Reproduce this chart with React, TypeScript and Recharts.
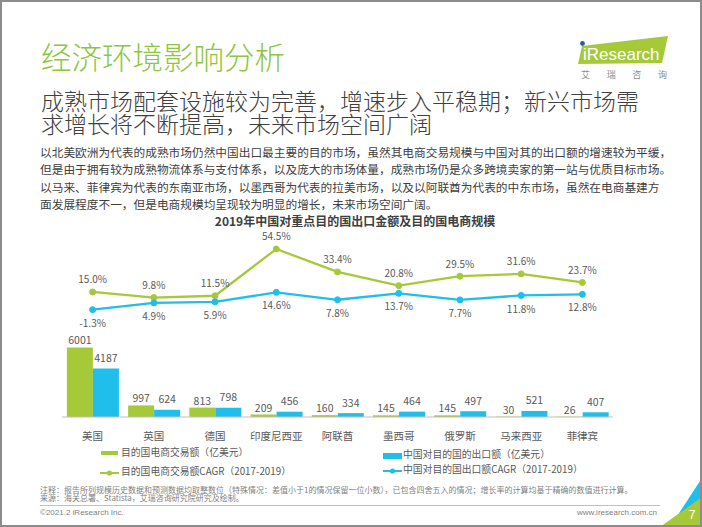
import { Bar, ComposedChart, Line, XAxis, YAxis, LabelList } from 'recharts'

const categories = ['美国', '英国', '德国', '印度尼西亚', '阿联酋', '墨西哥', '俄罗斯', '马来西亚', '菲律宾']
const ecomScale = [6001, 997, 813, 209, 160, 145, 145, 30, 26]
const exportValue = [4187, 624, 798, 456, 334, 464, 497, 521, 407]
const ecomCagr = [15.0, 9.8, 11.5, 54.5, 33.4, 20.8, 29.5, 31.6, 23.7]
const exportCagr = [-1.3, 4.9, 5.9, 14.6, 7.8, 13.7, 7.7, 11.8, 12.8]

const subtitleLines = ['成熟市场配套设施较为完善，增速步入平稳期；新兴市场需', '求增长将不断提高，未来市场空间广阔']

const bodyLines = [
    '以北美欧洲为代表的成熟市场仍然中国出口最主要的目的市场，虽然其电商交易规模与中国对其的出口额的增速较为平缓，',
    '但是由于拥有较为成熟物流体系与支付体系，以及庞大的市场体量，成熟市场仍是众多跨境卖家的第一站与优质目标市场。',
    '以马来、菲律宾为代表的东南亚市场，以墨西哥为代表的拉美市场，以及以阿联酋为代表的中东市场，虽然在电商基建方',
    '面发展程度不一，但是电商规模均呈现较为明显的增长，未来市场空间广阔。',
]

const noteLines = [
    '注释：报告所列规模历史数据和预测数据均取整数位（特殊情况：差值小于1的情况保留一位小数），已包含四舍五入的情况；增长率的计算均基于精确的数值进行计算。',
    '来源：海关总署、Statista，艾瑞咨询研究院研究及绘制。',
]

const GREEN = '#A6C939'
const BLUE = '#1FBEEB'
const TEXT = '#404040'
const LABEL = '#595959'
const FONT = '"Noto Sans CJK SC", "Noto Sans", sans-serif'
const LATIN = '"Liberation Sans", Arial, sans-serif'

const data = categories.map((name, i) => ({
    name,
    ecom: ecomScale[i],
    exp: exportValue[i],
    ecomCagr: ecomCagr[i],
    expCagr: exportCagr[i],
}))

const pct = (v: any) => `${Number(v).toFixed(1)}%`

function Txt({ top, left, size, color, children, bold, light, family, lineHeight }: any) {
    return (
        <div
            style={{
                position: 'absolute',
                top,
                left,
                fontSize: size,
                lineHeight: lineHeight || 1,
                color,
                whiteSpace: 'nowrap',
                fontWeight: bold ? 700 : light ? 300 : 400,
                fontFamily: family || FONT,
            }}
        >
            {children}
        </div>
    )
}

function LegendLine({ left, top, color }: any) {
    return (
        <svg style={{ position: 'absolute', left, top }} width={20} height={8}>
            <line x1={0} y1={4} x2={19} y2={4} stroke={color} strokeWidth={2} />
            <circle cx={9.5} cy={4} r={2.6} fill={color} />
        </svg>
    )
}

export default function App() {
    return (
        <div
            style={{
                position: 'absolute',
                left: 0,
                top: 0,
                width: 702,
                height: 527,
                background: '#fff',
                overflow: 'hidden',
                fontFamily: FONT,
            }}
        >
            <Txt top={41} left={41} size={30.5} color="#8DC63F" light>经济环境影响分析</Txt>

            {/* logo */}
            <svg style={{ position: 'absolute', left: 570, top: 31 }} width={110} height={50}>
                <polygon points="8,33 12,15 98,5 92,32" fill={GREEN} />
                <text x={13} y={29} fill="#fff" fontSize={17} fontFamily={LATIN}>iResearch</text>
                <circle cx={12.5} cy={12.5} r={2.4} fill="#2A5CAA" />
                <text x={11} y={46.5} fill="#8c8c8c" fontSize={9} textLength={86} lengthAdjust="spacing">艾瑞咨询</text>
            </svg>

            <Txt top={88.5} left={41} size={23} color={TEXT} light lineHeight="23.5px">
                {subtitleLines.map((l, i) => (
                    <div key={i}>{l}</div>
                ))}
            </Txt>

            <Txt top={142.5} left={40} size={11.7} color={TEXT} lineHeight="17.5px">
                {bodyLines.map((l, i) => (
                    <div key={i}>{l}</div>
                ))}
            </Txt>

            <div
                style={{
                    position: 'absolute',
                    left: 205,
                    width: 300,
                    top: 214.5,
                    textAlign: 'center',
                    fontSize: 12,
                    lineHeight: 1,
                    fontWeight: 700,
                    color: TEXT,
                }}
            >
                2019年中国对重点目的国出口金额及目的国电商规模
            </div>

            <div style={{ position: 'absolute', left: 0, top: 229 }}>
                <ComposedChart
                    width={702}
                    height={218}
                    data={data}
                    margin={{ top: 14, right: 89, bottom: 0, left: 62 }}
                    barCategoryGap="8%"
                    barGap={0}
                >
                    <XAxis
                        dataKey="name"
                        height={30}
                        tickLine={false}
                        tickSize={0}
                        tickMargin={16}
                        axisLine={{ stroke: '#BFBFBF' }}
                        tick={{ fill: LABEL, fontSize: 10.5 }}
                        interval={0}
                    />
                    <YAxis yAxisId="bar" hide domain={[0, 15000]} />
                    <YAxis yAxisId="rate" hide domain={[-100, 60]} />
                    <Bar yAxisId="bar" dataKey="ecom" fill={GREEN} isAnimationActive={false}>
                        <LabelList dataKey="ecom" position="top" offset={3} fill={LABEL} fontSize={10.5} />
                    </Bar>
                    <Bar yAxisId="bar" dataKey="exp" fill={BLUE} isAnimationActive={false}>
                        <LabelList dataKey="exp" position="top" offset={6.5} fill={LABEL} fontSize={10.5} />
                    </Bar>
                    <Line
                        yAxisId="rate"
                        dataKey="ecomCagr"
                        stroke={GREEN}
                        strokeWidth={2.3}
                        dot={{ r: 3, fill: GREEN, stroke: GREEN, strokeWidth: 1 }}
                        activeDot={false}
                        isAnimationActive={false}
                    >
                        <LabelList dataKey="ecomCagr" position="top" offset={8.5} fill={LABEL} fontSize={10} formatter={pct} />
                    </Line>
                    <Line
                        yAxisId="rate"
                        dataKey="expCagr"
                        stroke={BLUE}
                        strokeWidth={2.3}
                        dot={{ r: 3, fill: BLUE, stroke: BLUE, strokeWidth: 1 }}
                        activeDot={false}
                        isAnimationActive={false}
                    >
                        <LabelList dataKey="expCagr" position="bottom" offset={10} fill={LABEL} fontSize={10} formatter={pct} />
                    </Line>
                </ComposedChart>
            </div>

            {/* legend */}
            <div style={{ position: 'absolute', left: 101, top: 451, width: 17, height: 4, background: GREEN }} />
            <Txt top={447.5} left={121} size={9.8} color={LABEL}>目的国电商交易额（亿美元）</Txt>
            <div style={{ position: 'absolute', left: 383, top: 453, width: 19, height: 6, background: BLUE }} />
            <Txt top={450.3} left={403} size={9.8} color={LABEL}>中国对目的国的出口额（亿美元）</Txt>
            <LegendLine left={100} top={468.5} color={GREEN} />
            <Txt top={467.3} left={121} size={9.8} color={LABEL}>目的国电商交易额CAGR（2017-2019）</Txt>
            <LegendLine left={383} top={467} color={BLUE} />
            <Txt top={465.3} left={403} size={9.8} color={LABEL}>中国对目的国出口额CAGR（2017-2019）</Txt>

            {/* notes */}
            <Txt top={485.5} left={40} size={8} color="#7F7F7F" lineHeight="8.7px">
                {noteLines.map((l, i) => (
                    <div key={i}>{l}</div>
                ))}
            </Txt>

            <div style={{ position: 'absolute', left: 40, top: 504.5, width: 620, height: 1, background: '#BFBFBF' }} />
            <Txt top={509} left={40} size={8} color="#7F7F7F" family={LATIN}>©2021.2 iResearch Inc.</Txt>
            <Txt top={509} left={577} size={8} color="#7F7F7F" family={LATIN}>www.iresearch.com.cn</Txt>

            <svg style={{ position: 'absolute', left: 640, top: 460 }} width={62} height={67}>
                <polygon points="30,67 62,18 62,67" fill={BLUE} />
                <polygon points="20,67 62,37 62,67" fill={GREEN} />
                <text x={52} y={59} fill="#fff" fontSize={12} textAnchor="middle" fontFamily={LATIN}>7</text>
            </svg>

            <div
                style={{
                    position: 'absolute',
                    inset: 0,
                    border: '2px solid #8C8C8C',
                    boxSizing: 'border-box',
                    pointerEvents: 'none',
                }}
            />
        </div>
    )
}
